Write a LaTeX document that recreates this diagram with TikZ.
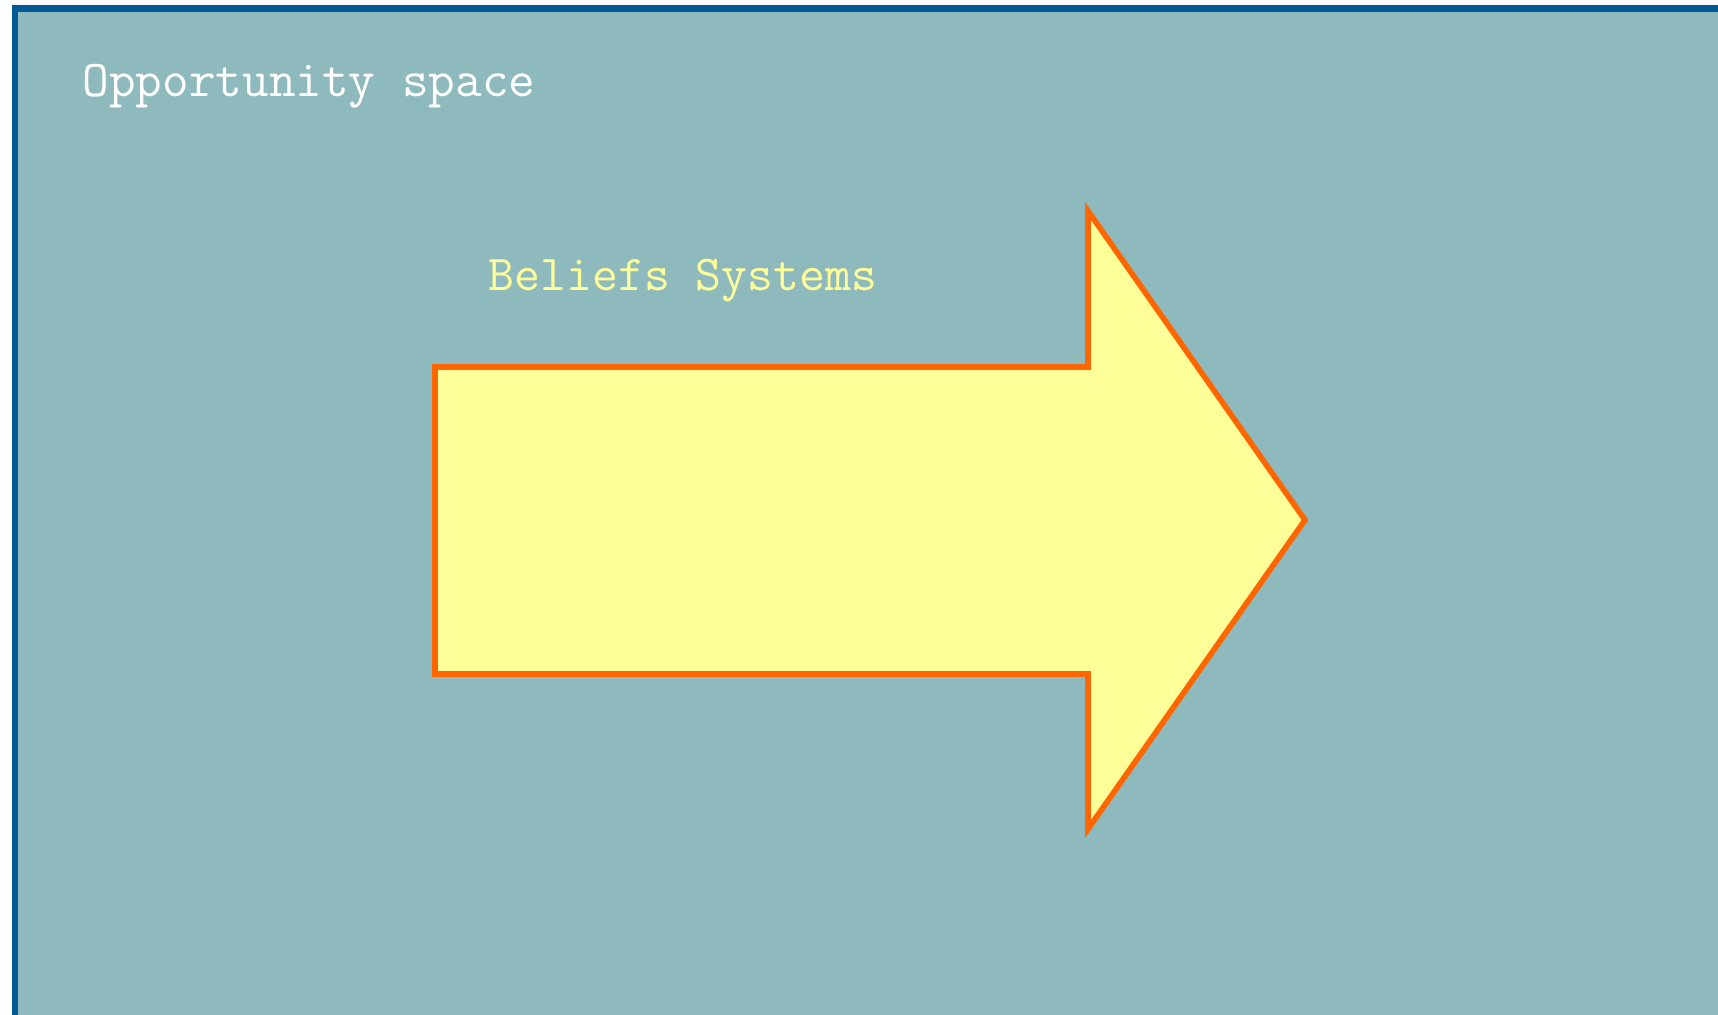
\documentclass[tikz,border=0pt]{standalone}
\usepackage{xcolor}
\usepackage{tikz}
\usetikzlibrary{positioning}

\definecolor{spacebg}{HTML}{8FBABD}
\definecolor{spaceline}{HTML}{005A96}
\definecolor{beliefyellow}{HTML}{FFFF99}
\definecolor{beliefline}{HTML}{FF6600}

\tikzset{
	spacebox/.style={fill=spacebg, draw=spaceline, line width=1.9pt},
	beliefarrow/.style={fill=beliefyellow, draw=beliefline, line width=1.6pt, line join=miter},
	label text/.style={font=\ttfamily\fontsize{14.7}{17}\selectfont, inner sep=0pt, anchor=base west}
}

\begin{document}
\begin{tikzpicture}[x=0.01cm, y=-0.01cm]
	% 画布大小
	\useasboundingbox (0,0) rectangle (1718,1014);
	\clip (0,0) rectangle (1718,1014);
	
	% 背景区域
	\draw[spacebox] (15,8.5) rectangle (1760,1060);
	\node[label text, text=white] (space) at (82,96) {Opportunity space};
	
	% 命名箭头的点
	\coordinate (P1) at (435,367);
	\coordinate (P2) at (1088,367);
	\coordinate (P3) at (1088,211);
	\coordinate (P4) at (1305,520);
	\coordinate (P5) at (1088,829);
	\coordinate (P6) at (1088,674);
	\coordinate (P7) at (435,674);
	
	% 画箭头
	\draw[beliefarrow] (P1) -- (P2) -- (P3) -- (P4) -- (P5) -- (P6) -- (P7) -- cycle;
	
	% 箭头标题
	\node[label text, text=beliefyellow, font=\ttfamily\fontsize{14.3}{17}\selectfont] (beliefs) at (488,290) {Beliefs Systems};
\end{tikzpicture}
\end{document}
